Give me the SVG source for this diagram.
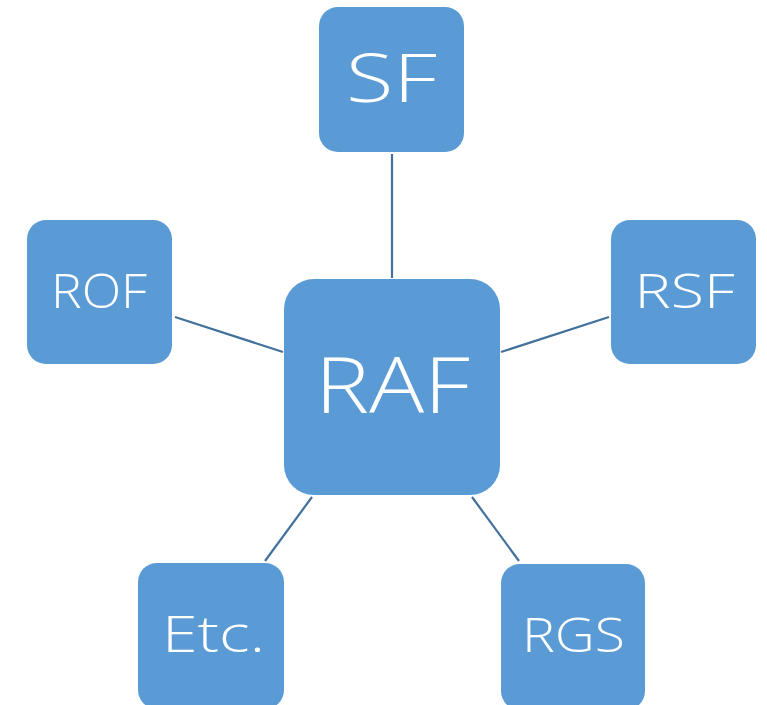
<svg xmlns="http://www.w3.org/2000/svg" width="767" height="705" viewBox="0 0 767 705">
<style>
.box{fill:#5B9BD5;}
.lbl{fill:#FFFFFF;font-family:"Open Sans","Liberation Sans",sans-serif;font-weight:300;text-anchor:middle;}
.conn{stroke:#41719C;stroke-width:2.2;fill:none;}
</style>
<rect width="767" height="705" fill="#FFFFFF"/>
<g id="connectors">
<line class="conn" x1="392" y1="154" x2="392" y2="278"/>
<line class="conn" x1="175" y1="317" x2="283" y2="352"/>
<line class="conn" x1="609" y1="317" x2="501" y2="352"/>
<line class="conn" x1="265" y1="561" x2="312" y2="497"/>
<line class="conn" x1="519" y1="561" x2="472" y2="497"/>
</g>
<g id="SF">
<rect class="box" x="319" y="7" width="145" height="145" rx="19"/>
<text class="lbl" x="391.5" y="102" font-size="67" textLength="91" lengthAdjust="spacingAndGlyphs">SF</text>
</g>
<g id="ROF">
<rect class="box" x="27" y="220" width="145" height="144" rx="19"/>
<text class="lbl" x="99" y="308" font-size="47" textLength="96" lengthAdjust="spacingAndGlyphs">ROF</text>
</g>
<g id="RSF">
<rect class="box" x="611" y="220" width="145" height="144" rx="19"/>
<text class="lbl" x="684.5" y="308" font-size="47" textLength="100" lengthAdjust="spacingAndGlyphs">RSF</text>
</g>
<g id="RAF">
<rect class="box" x="284" y="279" width="216" height="216" rx="30"/>
<text class="lbl" x="392.5" y="413" font-size="78" textLength="155" lengthAdjust="spacingAndGlyphs">RAF</text>
</g>
<g id="Etc">
<rect class="box" x="138" y="563" width="146" height="146" rx="19"/>
<text class="lbl" x="213.5" y="652" font-size="50" textLength="103" lengthAdjust="spacingAndGlyphs">Etc.</text>
</g>
<g id="RGS">
<rect class="box" x="501" y="564" width="144" height="146" rx="19"/>
<text class="lbl" x="573.5" y="652" font-size="47" textLength="103" lengthAdjust="spacingAndGlyphs">RGS</text>
</g>
</svg>
